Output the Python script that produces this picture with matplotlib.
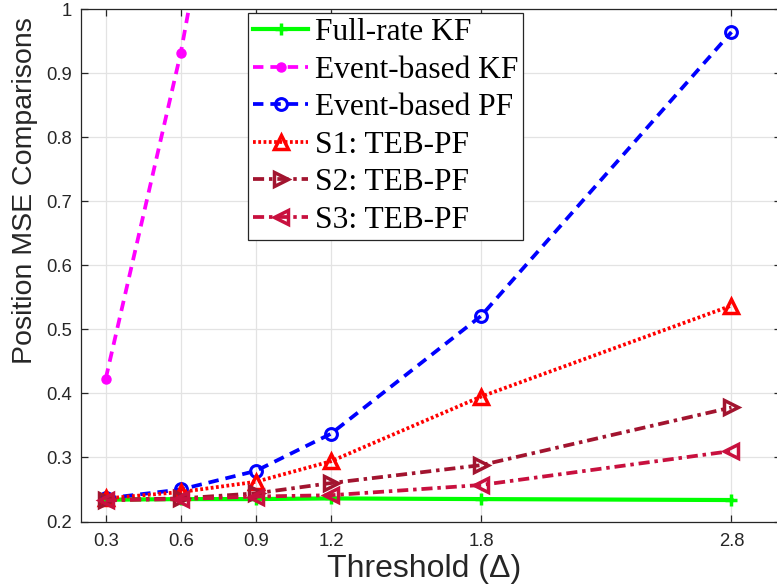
import matplotlib
matplotlib.use("Agg")
import matplotlib.pyplot as plt

# Threshold values and MSE results
thresholds = [0.3, 0.6, 0.9, 1.2, 1.8, 2.8]
full_rate_kf = [0.234, 0.235, 0.235, 0.236, 0.235, 0.2335]
event_kf_x = [0.3, 0.6, 0.9]
event_kf = [0.423, 0.932, 1.57]
event_pf = [0.236, 0.250, 0.279, 0.337, 0.521, 0.964]
s1_teb_pf = [0.236, 0.246, 0.262, 0.294, 0.395, 0.537]
s2_teb_pf = [0.234, 0.236, 0.244, 0.260, 0.288, 0.378]
s3_teb_pf = [0.233, 0.235, 0.239, 0.241, 0.257, 0.310]

x_ticks = [0.3, 0.6, 0.9, 1.2, 1.8, 2.8]
y_ticks = [0.2, 0.3, 0.4, 0.5, 0.6, 0.7, 0.8, 0.9, 1.0]
y_ticklabels = ["0.2", "0.3", "0.4", "0.5", "0.6", "0.7", "0.8", "0.9", "1"]

plt.rcParams["lines.scale_dashes"] = False
plt.rcParams["font.family"] = ["Liberation Sans", "DejaVu Sans"]

TXT = "#262626"

fig = plt.figure(figsize=(7.77, 5.88), dpi=100)
W, H = 777, 588
left, right, top, bottom = 80.7, 781.5, 9.0, 521.5
ax = fig.add_axes([left / W, 1 - bottom / H, (right - left) / W, (bottom - top) / H])

lw = 2.7
ax.plot(thresholds, full_rate_kf, color="#00ff00", lw=3.0, ls="-",
        marker="+", ms=9, mew=2.5, label="Full-rate KF")
ax.plot(event_kf_x, event_kf, color="#ff00ff", lw=lw, dashes=(7.5, 5),
        marker="o", ms=6.5, mfc="#ff00ff", mec="#ff00ff", label="Event-based KF")
ax.plot(thresholds, event_pf, color="#0000ff", lw=lw, dashes=(7.5, 5),
        marker="o", ms=8.5, mfc="none", mew=2.2, label="Event-based PF")
ax.plot(thresholds, s1_teb_pf, color="#ff0000", lw=lw, dashes=(2.0, 1.8),
        marker="^", ms=10.5, mfc="none", mew=2.5, label="S1: TEB-PF")
ax.plot(thresholds, s2_teb_pf, color="#a2142f", lw=lw, dashes=(8, 3.5, 2.5, 3.5),
        marker=">", ms=10.5, mfc="none", mew=2.5, label="S2: TEB-PF")
ax.plot(thresholds, s3_teb_pf, color="#c8103e", lw=lw, dashes=(8, 3.5, 2.5, 3.5),
        marker="<", ms=10.5, mfc="none", mew=2.5, label="S3: TEB-PF")

ax.set_xlim(0.2, 3.0)
ax.set_ylim(0.2, 1.0)
ax.set_xticks(x_ticks)
ax.set_xticklabels([f"{v:g}" for v in x_ticks])
ax.set_yticks(y_ticks)
ax.set_yticklabels(y_ticklabels)

ax.grid(True, color="#e3e3e3", lw=0.9)
ax.set_axisbelow(True)
for s in ax.spines.values():
    s.set_color(TXT)
    s.set_linewidth(0.9)
ax.tick_params(direction="in", top=True, right=True, length=5, width=0.9,
               colors=TXT, labelsize=13.3)
ax.tick_params(axis="x", pad=8)
ax.tick_params(axis="y", pad=6)

ax.set_xlabel("Threshold (\u0394)", fontsize=23, color=TXT)
ax.xaxis.set_label_coords(0.49, -0.064)
ax.set_ylabel("Position MSE Comparisons", fontsize=20.5, color=TXT)
ax.yaxis.set_label_coords(-0.061, 0.645)

leg = ax.legend(loc="upper left", bbox_to_anchor=(248.3 / W, 1 - 13.3 / H),
                bbox_transform=fig.transFigure, prop={"family": "Liberation Serif", "size": 22.7},
                frameon=True, fancybox=False, framealpha=1, edgecolor=TXT,
                borderpad=0.15, labelspacing=0.27, handlelength=1.75, handletextpad=0.2,
                borderaxespad=0)
leg.get_frame().set_linewidth(0.9)
for t in leg.get_texts():
    t.set_color("black")

fig.savefig("out.png", dpi=100)
